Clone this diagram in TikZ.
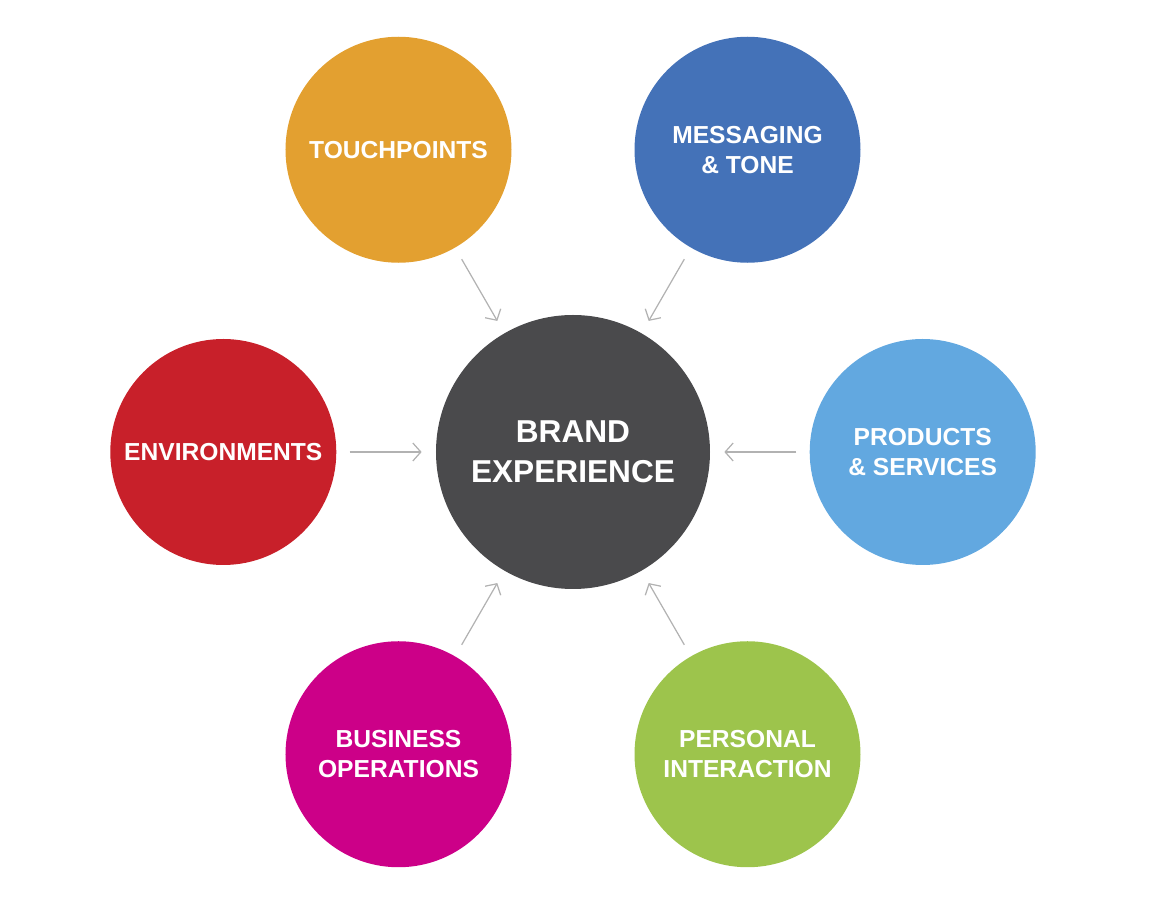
\documentclass[tikz,border=0pt]{standalone}
\usepackage{fontspec}
\setmainfont{Liberation Sans}
\usepackage{tikz}
\usetikzlibrary{arrows.meta,positioning}
\definecolor{touchorange}{HTML}{E3A030}
\definecolor{msgblue}{HTML}{4472B8}
\definecolor{envred}{HTML}{C8202A}
\definecolor{prodblue}{HTML}{62A8E0}
\definecolor{busmagenta}{HTML}{CC0088}
\definecolor{persgreen}{HTML}{9DC44C}
\definecolor{branddark}{HTML}{4A4A4C}

\begin{document}
\begin{tikzpicture}[
    hub/.style={circle, fill=branddark, minimum size=5.48cm, inner sep=0pt, text=white, font=\fontsize{18}{22.7}\selectfont\bfseries, align=center},
    petal/.style={circle, minimum size=4.52cm, inner sep=0pt, text=white, font=\fontsize{14}{17}\selectfont\bfseries, align=center},
    feed/.style={-{Straight Barb[length=1.6mm,width=3.6mm]}, draw=gray!60, line width=0.7pt, shorten <=0.26cm, shorten >=0.28cm}
]
\useasboundingbox (-11.46,-8.98) rectangle (11.52,9.04);

% Centre
\node[hub] (brand) at (0,0) {BRAND\\EXPERIENCE};

% Surrounding circles
\node[petal, fill=touchorange] (touch) at (120:6.98) {TOUCHPOINTS};
\node[petal, fill=msgblue] (msg) at (60:6.98) {MESSAGING\\\& TONE};
\node[petal, fill=envred, left=1.98cm of brand] (env) {ENVIRONMENTS};
\node[petal, fill=prodblue, right=1.98cm of brand] (prod) {PRODUCTS\\\& SERVICES};
\node[petal, fill=busmagenta] (bus) at (240:6.98) {BUSINESS\\OPERATIONS};
\node[petal, fill=persgreen] (pers) at (300:6.98) {PERSONAL\\INTERACTION};

% Arrows into the centre
\draw[feed] (touch) -- (brand);
\draw[feed] (msg) -- (brand);
\draw[feed] (env) -- (brand);
\draw[feed] (prod) -- (brand);
\draw[feed] (bus) -- (brand);
\draw[feed] (pers) -- (brand);

\end{tikzpicture}
\end{document}
